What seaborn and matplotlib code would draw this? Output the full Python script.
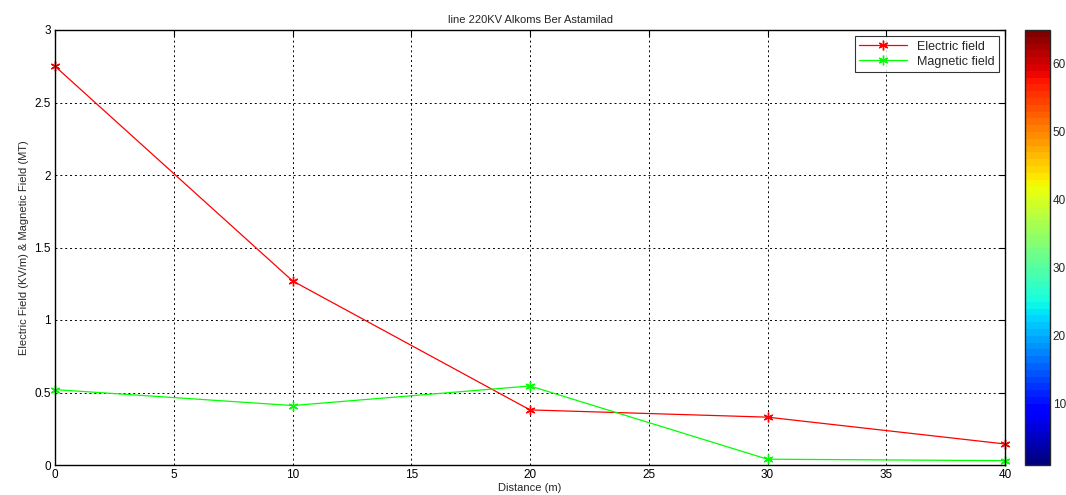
import numpy as np
import pandas as pd
import matplotlib
matplotlib.use("Agg")
import matplotlib.pyplot as plt
import seaborn as sns
from matplotlib import cm, colors

distance = [0, 10, 20, 30, 40]
electric = [2.75, 1.27, 0.38, 0.33, 0.145]
magnetic = [0.52, 0.41, 0.545, 0.04, 0.03]
series_names = ["Electric field", "Magnetic field"]
x_ticks = [0, 5, 10, 15, 20, 25, 30, 35, 40]
y_ticks = [0, 0.5, 1, 1.5, 2, 2.5, 3]
cbar_ticks = [10, 20, 30, 40, 50, 60]

sns.set_style("white")
plt.rcParams['font.family'] = ['Liberation Sans', 'DejaVu Sans']

df = pd.DataFrame({
    "Distance": distance * 2,
    "Value": electric + magnetic,
    "Series": [series_names[0]] * len(distance) + [series_names[1]] * len(distance),
})

fig = plt.figure(figsize=(10.66, 4.95), dpi=100)
ax = fig.add_axes([55/1066, 30/495, 950/1066, 435/495])
cax = fig.add_axes([1025/1066, 30/495, 25/1066, 435/495])

sns.lineplot(data=df, x="Distance", y="Value", hue="Series",
             palette={series_names[0]: "#ff0000", series_names[1]: "#00ff00"},
             marker=(6, 2, 0), markersize=7, markeredgewidth=1.0, linewidth=0.9,
             ax=ax, legend=False)
for ln in ax.lines:
    ln.set_markeredgecolor(ln.get_color())
    ln.set_clip_on(False)

ax.set_xlim(0, 40)
ax.set_ylim(0, 3)
ax.set_xticks(x_ticks)
ax.set_yticks(y_ticks)
ax.set_yticklabels(["0", "0.5", "1", "1.5", "2", "2.5", "3"])
ax.grid(True, color="black", linestyle=(0, (2, 3)), linewidth=0.7)
for s in ax.spines.values():
    s.set_color("black")
    s.set_linewidth(1.0)
ax.tick_params(direction="in", length=4, labelsize=8.5, colors="black", top=True, right=True, pad=3)
ax.set_xlabel("Distance (m)", fontsize=8, labelpad=1)
ax.set_ylabel("Electric Field (KV/m) & Magnetic Field (MT)", fontsize=8, labelpad=4)
ax.set_title("line 220KV Alkoms Ber Astamilad", fontsize=8, pad=5)

leg = ax.legend(ax.lines[:2], series_names, loc="upper right", fontsize=9, frameon=True, fancybox=False,
                edgecolor="black", handlelength=3.8, borderpad=0.35,
                labelspacing=0.25, borderaxespad=0.5)
leg.get_frame().set_linewidth(0.8)

cmap = plt.get_cmap("jet", 64)
norm = colors.Normalize(vmin=1, vmax=65)
cb = fig.colorbar(cm.ScalarMappable(norm=norm, cmap=cmap), cax=cax)
cb.set_ticks(cbar_ticks)
cb.ax.tick_params(direction="in", length=4, labelsize=8.5, left=True, right=True, pad=2)
cb.outline.set_linewidth(1.0)

fig.savefig("out.png", dpi=100)
